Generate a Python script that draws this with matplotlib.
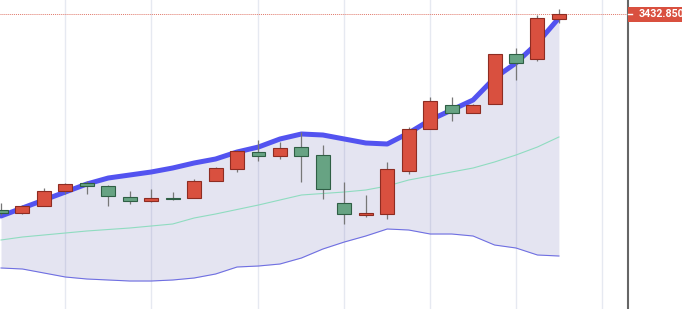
import numpy as np
import matplotlib
matplotlib.use("Agg")
import matplotlib.pyplot as plt
import matplotlib.transforms as mtransforms
from matplotlib.patches import Rectangle

# daily OHLC (red = up, green = down)
opens = [3334.85, 3333.35, 3336.85, 3344.35, 3348.35, 3346.85, 3341.35, 3339.35, 3340.85,
         3340.85, 3349.35, 3355.35, 3363.85, 3361.85, 3366.35, 3362.35, 3338.35, 3332.35,
         3332.85, 3354.35, 3375.35, 3387.35, 3383.35, 3387.85, 3412.85, 3410.35, 3430.35]
highs = [3338.35, 3337.35, 3345.85, 3348.35, 3349.35, 3347.35, 3344.35, 3345.35, 3343.85,
         3350.35, 3356.35, 3364.85, 3369.85, 3368.85, 3373.85, 3367.35, 3348.85, 3342.35,
         3358.85, 3376.35, 3391.35, 3391.35, 3387.85, 3412.85, 3415.85, 3432.35, 3435.35]
lows = [3332.35, 3332.85, 3336.85, 3342.85, 3342.85, 3336.85, 3337.85, 3338.85, 3339.85,
        3340.85, 3349.35, 3353.85, 3359.35, 3360.35, 3348.85, 3340.35, 3327.85, 3331.35,
        3330.35, 3352.85, 3375.35, 3379.35, 3383.35, 3387.85, 3399.85, 3409.35, 3428.35]
closes = [3333.35, 3336.85, 3344.35, 3347.85, 3346.85, 3341.85, 3339.35, 3340.85, 3340.35,
          3349.35, 3355.85, 3364.35, 3361.85, 3365.85, 3361.85, 3345.35, 3332.85, 3333.35,
          3355.35, 3375.35, 3389.35, 3383.35, 3387.35, 3412.85, 3408.35, 3430.85, 3432.85]

# bollinger bands
upper = [3331.85, 3335.85, 3339.85, 3343.85, 3347.85, 3350.85, 3352.35, 3353.85, 3355.85,
         3358.35, 3360.35, 3363.85, 3366.35, 3370.35, 3372.85, 3372.35, 3370.35, 3368.35,
         3367.85, 3373.35, 3379.85, 3384.85, 3389.85, 3400.85, 3408.35, 3418.35, 3430.85]
middle = [3319.85, 3321.35, 3322.35, 3323.35, 3324.35, 3325.10, 3325.85, 3326.85, 3327.85,
          3330.85, 3332.85, 3335.10, 3337.35, 3339.85, 3342.35, 3343.10, 3343.85, 3344.85,
          3346.85, 3349.85, 3351.85, 3353.85, 3355.85, 3358.85, 3362.35, 3366.35, 3371.35]
lower = [3305.85, 3305.35, 3303.35, 3301.35, 3300.35, 3299.85, 3299.35, 3299.35, 3299.85,
         3300.85, 3302.85, 3306.35, 3306.85, 3307.85, 3310.85, 3315.35, 3318.85, 3321.85,
         3325.35, 3324.85, 3322.85, 3322.85, 3321.85, 3317.35, 3315.85, 3312.35, 3311.85]

# week start positions for the vertical grid
week_ticks = [3, 7, 12, 16, 20, 24, 28]

RED = "#d9503f"
RED_EDGE = "#8e2c22"
GREEN = "#67a383"
GREEN_EDGE = "#2f5f45"

fig = plt.figure(figsize=(6.82, 3.09), dpi=100)
ax = fig.add_axes([0, 0, 628 / 682, 1])

x = np.arange(len(closes))

ax.fill_between(x, lower, upper, color=(0.27, 0.27, 0.63, 0.14), lw=0, zorder=1)
ax.plot(x, lower, color="#6f6fe2", lw=0.8, zorder=2)
ax.plot(x, middle, color="#8fdcc0", lw=0.8, zorder=2)
ax.plot(x, upper, color="#5353f0", lw=3.6, zorder=2, solid_capstyle="round")

width = 0.65
for i in range(len(closes)):
    o, h, l, c = opens[i], highs[i], lows[i], closes[i]
    up = c >= o
    ax.vlines(x[i], l, h, color="#777777", lw=0.9, zorder=3)
    body = max(abs(c - o), 0.4)
    ax.add_patch(Rectangle((x[i] - width / 2, min(o, c)), width, body,
                           facecolor=RED if up else GREEN,
                           edgecolor=RED_EDGE if up else GREEN_EDGE,
                           lw=0.8, zorder=4))

last = closes[-1]
ax.axhline(last, color="#e0786a", lw=0.7, ls=(0, (1, 1)), zorder=2)

ax.set_xlim(-0.047, 29.22)
ax.set_ylim(3285.35, 3439.85)
ax.set_xticks(week_ticks)
ax.set_xticklabels([])
ax.set_yticks([])
ax.tick_params(axis="x", length=0)
ax.grid(axis="x", color="#e6e9f1", lw=1)
ax.set_axisbelow(True)
for side in ["top", "left", "bottom"]:
    ax.spines[side].set_visible(False)
ax.spines["right"].set_color("#666666")
ax.spines["right"].set_linewidth(1.5)

# last price label on the right axis
trans = mtransforms.blended_transform_factory(ax.transAxes, ax.transData)
y0, y1 = ax.get_ylim()
box_h = (y1 - y0) * 15 / 309
ax.add_patch(Rectangle((1.0, last - box_h / 2), 0.2, box_h, transform=trans,
                       facecolor=RED, edgecolor="none", clip_on=False, zorder=5))
ax.plot([1.0, 1.0 + 4 / 628], [last, last], transform=trans, color="white", lw=1,
        clip_on=False, zorder=6)
ax.annotate("%.3f" % last, xy=(1, last), xycoords=trans,
            xytext=(7.7, 0), textcoords="offset points",
            ha="left", va="center", fontsize=7.7, fontweight="bold",
            family=["Roboto", "DejaVu Sans"], color="white",
            annotation_clip=False, zorder=7)

fig.savefig("out.png", dpi=100)
